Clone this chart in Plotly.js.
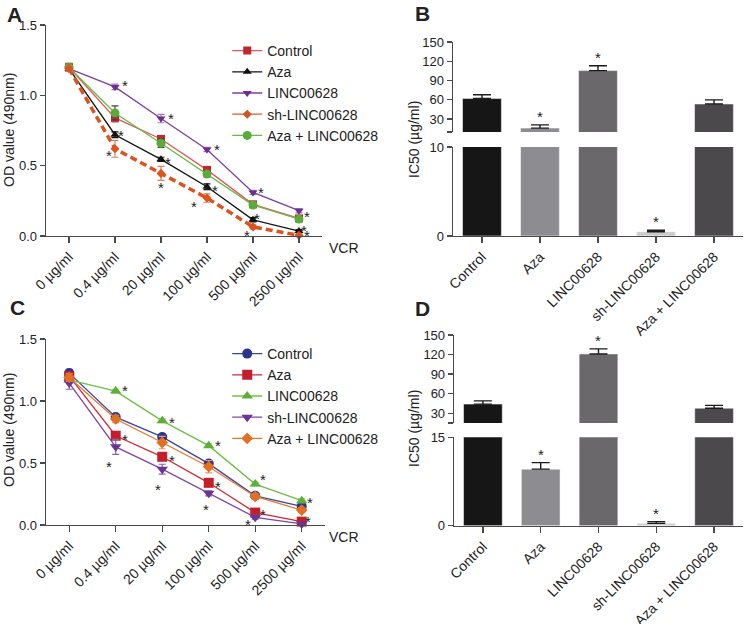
<!DOCTYPE html>
<html>
<head>
<meta charset="utf-8">
<script src="https://cdn.plot.ly/plotly-3.0.1.min.js"></script>
<style>
  body { margin: 0; background: #fff; }
  #plot { width: 745px; height: 624px; }
</style>
</head>
<body>
<div id="plot"></div>
<script>
// Doses (x categories for A and C)
const doses = ["0 µg/ml", "0.4 µg/ml", "20 µg/ml", "100 µg/ml", "500 µg/ml", "2500 µg/ml"];

// Panel A: OD values
const aNames = ["Control", "Aza", "LINC00628", "sh-LINC00628", "Aza + LINC00628"];
const aControl = [1.20, 0.84, 0.69, 0.47, 0.225, 0.125];
const aAza = [1.19, 0.72, 0.545, 0.35, 0.115, 0.035];
const aLinc = [1.19, 1.06, 0.835, 0.615, 0.31, 0.18];
const aSh = [1.19, 0.62, 0.445, 0.27, 0.065, 0.005];
const aAzaLinc = [1.20, 0.875, 0.66, 0.44, 0.22, 0.12];
const aControlErr = [0.03, 0.03, 0.02, 0.02, 0.015, 0.015];
const aAzaErr = [0.02, 0.02, 0.015, 0.02, 0.015, 0.01];
const aLincErr = [0.02, 0.02, 0.03, 0.015, 0.015, 0.015];
const aShErr = [0.02, 0.06, 0.05, 0.03, 0.015, 0.01];
const aAzaLincErr = [0.02, 0.05, 0.03, 0.02, 0.015, 0.015];
const starsAx = [1.22, 2.22, 3.22, 1.13, 0.87, 2.15, 2.0, 3.17, 2.72, 4.17, 4.09, 3.87, 5.17, 5.1, 5.17];
const starsAy = [1.10, 0.865, 0.645, 0.745, 0.60, 0.55, 0.375, 0.35, 0.24, 0.335, 0.155, 0.03, 0.17, 0.07, 0.03];

// Panel C: OD values
const cNames = ["Control", "Aza", "LINC00628", "sh-LINC00628", "Aza + LINC00628"];
const cControl = [1.225, 0.87, 0.71, 0.495, 0.235, 0.15];
const cAza = [1.20, 0.72, 0.55, 0.34, 0.10, 0.027];
const cLinc = [1.17, 1.08, 0.84, 0.64, 0.33, 0.196];
const cSh = [1.145, 0.63, 0.45, 0.255, 0.062, 0.008];
const cAzaLinc = [1.19, 0.855, 0.665, 0.47, 0.23, 0.12];
const cControlErr = [0.03, 0.02, 0.02, 0.02, 0.02, 0.02];
const cAzaErr = [0.03, 0.02, 0.03, 0.02, 0.02, 0.015];
const cLincErr = [0.02, 0.015, 0.015, 0.015, 0.015, 0.015];
const cShErr = [0.05, 0.06, 0.04, 0.02, 0.015, 0.01];
const cAzaLincErr = [0.03, 0.03, 0.05, 0.05, 0.02, 0.02];
const starsCx = [1.2, 1.2, 0.85, 2.2, 2.2, 1.9, 3.2, 3.2, 2.95, 4.17, 4.17, 3.85, 5.17, 5.13, 5.18];
const starsCy = [1.115, 0.725, 0.50, 0.86, 0.555, 0.32, 0.67, 0.34, 0.16, 0.395, 0.115, 0.035, 0.215, 0.06, -0.05];

// Panels B and D: IC50 bars
const groups = ["Control", "Aza", "LINC00628", "sh-LINC00628", "Aza + LINC00628"];
const bIC50 = [62, 16, 105.5, 0.48, 53.5];
const bErr = [6, 5, 7.5, 0.16, 6.5];
const bStar = [false, true, true, true, false];
const bBreak = 10;
const dIC50 = [44, 9.6, 121, 0.4, 37.7];
const dErr = [5, 1.1, 7.8, 0.3, 4.3];
const dStar = [false, true, true, true, false];
const dBreak = 15;

const barColors = ["#161616", "#8d8c91", "#6a686b", "#cbcbcb", "#4b494c"];
const FONT = "Liberation Sans, Arial, sans-serif";
const AX = "#4a4a4a";

function lineTrace(x, y, err, name, lineColor, markColor, symbol, xa, ya, legend, opts) {
  opts = opts || {};
  return {
    x: x, y: y, type: "scatter", mode: "lines+markers", name: name,
    xaxis: xa, yaxis: ya, legend: legend, cliponaxis: false,
    showlegend: opts.showlegend !== false,
    line: {color: lineColor, width: opts.width || 1.3, dash: opts.dash || "solid"},
    marker: {color: markColor, symbol: symbol, size: opts.size || 8},
    error_y: {type: "data", array: err, color: opts.errColor || markColor, thickness: 1.2, width: 3.5}
  };
}
function legendOnly(name, lineColor, markColor, symbol, legend, size) {
  return {
    x: [null], y: [null], type: "scatter", mode: "lines+markers", name: name,
    xaxis: "x", yaxis: "y", legend: legend,
    line: {color: lineColor, width: 1.3}, marker: {color: markColor, symbol: symbol, size: size}
  };
}

const traces = [
  // Panel A
  lineTrace(doses, aControl, aControlErr, aNames[0], "#e4575b", "#c1272d", "square", "x", "y", "legend", {errColor: "#e47a7c"}),
  lineTrace(doses, aAza, aAzaErr, aNames[1], "#111111", "#111111", "triangle-up", "x", "y", "legend", {size: 8}),
  lineTrace(doses, aLinc, aLincErr, aNames[2], "#7b3f9e", "#6d2c91", "triangle-down", "x", "y", "legend", {errColor: "#a27ab9"}),
  legendOnly(aNames[3], "#dd5a2a", "#d2522a", "diamond", "legend", 7),
  lineTrace(doses, aAzaLinc, aAzaLincErr, aNames[4], "#66bb44", "#5aab3b", "circle", "x", "y", "legend", {size: 9, errColor: "#444444"}),
  lineTrace(doses, aSh, aShErr, aNames[3], "#d9541e", "#d9541e", "diamond", "x", "y", "legend",
            {showlegend: false, width: 3.5, dash: "7px,4px", size: 7, errColor: "#e0805c"}),
  // Panel C
  lineTrace(doses, cControl, cControlErr, cNames[0], "#3b44a0", "#2b3590", "circle", "x3", "y4", "legend2", {size: 10, errColor: "#6a70b8"}),
  lineTrace(doses, cAza, cAzaErr, cNames[1], "#cf2a32", "#c1202a", "square", "x3", "y4", "legend2", {size: 10, errColor: "#e07a7e"}),
  lineTrace(doses, cLinc, cLincErr, cNames[2], "#6cbf45", "#5cb039", "triangle-up", "x3", "y4", "legend2", {size: 10, errColor: "#8fd06e"}),
  lineTrace(doses, cSh, cShErr, cNames[3], "#7e46a8", "#6b3596", "triangle-down", "x3", "y4", "legend2", {size: 10, errColor: "#8a62ad"}),
  lineTrace(doses, cAzaLinc, cAzaLincErr, cNames[4], "#e8792a", "#e27022", "diamond", "x3", "y4", "legend2", {size: 9, errColor: "#eb9a5e"})
];

// Broken-axis bars: same bars in lower and upper segment, clipped by each subplot
function barTraces(vals, err, xa, yLow, yHigh) {
  return [yLow, yHigh].map(function (ya) {
    return {
      x: groups, y: vals, type: "bar", xaxis: xa, yaxis: ya, showlegend: false,
      marker: {color: barColors, line: {color: "rgba(255,255,255,0.5)", width: 1}},
      error_y: {type: "data", symmetric: false, array: err, arrayminus: err.map(function () { return 0; }),
                color: "#1a1a1a", thickness: 1.4, width: 9}
    };
  });
}
traces.push.apply(traces, barTraces(bIC50, bErr, "x2", "y2", "y3"));
traces.push.apply(traces, barTraces(dIC50, dErr, "x4", "y5", "y6"));

const tickFont = {family: FONT, size: 13, color: "#222"};
const xTickFont = {family: FONT, size: 14, color: "#222"};
function catAxis(domain, anchor, n) {
  return {
    domain: domain, anchor: anchor, type: "category", range: [-0.5, n - 0.5],
    showline: true, linecolor: AX, linewidth: 1.3, ticks: "outside", ticklen: 6, tickwidth: 1.3,
    tickcolor: AX, tickangle: -45, tickfont: xTickFont, showgrid: false, zeroline: false, fixedrange: true
  };
}
function valAxis(domain, anchor, range, vals, text) {
  return {
    domain: domain, anchor: anchor, range: range, tickvals: vals, ticktext: text,
    showline: true, linecolor: AX, linewidth: 1.3, ticks: "outside", ticklen: 5, tickwidth: 1.3,
    tickcolor: AX, tickfont: tickFont, showgrid: false, zeroline: false, fixedrange: true
  };
}

const annotations = [];
function addText(x, y, text, size, extra) {
  annotations.push(Object.assign({
    xref: "paper", yref: "paper", x: x, y: y, text: text, showarrow: false,
    xanchor: "center", yanchor: "middle",
    font: {family: FONT, size: size, color: "#222"}
  }, extra || {}));
}
function addStars(xs, ys, xa, ya) {
  xs.forEach(function (x, i) {
    annotations.push({xref: xa, yref: ya, x: x, y: ys[i], text: "*", showarrow: false, yshift: -4,
                      xanchor: "center", yanchor: "middle",
                      font: {family: FONT, size: 15, color: "#222"}});
  });
}
function addBarStars(vals, err, flags, brk, xa, yLow, yHigh) {
  vals.forEach(function (v, i) {
    if (!flags[i]) return;
    annotations.push({xref: xa, yref: v + err[i] > brk ? yHigh : yLow, x: i, y: v + err[i],
                      xanchor: "center", yanchor: "bottom", yshift: -2, text: "*", showarrow: false,
                      font: {family: FONT, size: 15, color: "#222"}});
  });
}
addStars(starsAx, starsAy, "x", "y");
addStars(starsCx, starsCy, "x3", "y4");
addBarStars(bIC50, bErr, bStar, bBreak, "x2", "y2", "y3");
addBarStars(dIC50, dErr, dStar, dBreak, "x4", "y5", "y6");

addText(15 / 745, 1 - 14 / 624, "<b>A</b>", 21);
addText(422 / 745, 1 - 13 / 624, "<b>B</b>", 21);
addText(17 / 745, 1 - 307 / 624, "<b>C</b>", 21);
addText(422 / 745, 1 - 308 / 624, "<b>D</b>", 21);
addText(9 / 745, 1 - 130 / 624, "OD value (490nm)", 14, {textangle: -90});
addText(9 / 745, 1 - 430 / 624, "OD value (490nm)", 14, {textangle: -90});
addText(414 / 745, 1 - 140 / 624, "IC50 (µg/ml)", 14, {textangle: -90});
addText(414 / 745, 1 - 429 / 624, "IC50 (µg/ml)", 14, {textangle: -90});
addText(344 / 745, 1 - 248 / 624, "VCR", 14);
addText(344 / 745, 1 - 537 / 624, "VCR", 14);

const legendStyle = {
  xanchor: "left", yanchor: "top", bgcolor: "rgba(0,0,0,0)", itemwidth: 30,
  font: {family: FONT, size: 14, color: "#222"}, tracegroupgap: 0
};

const layout = {
  width: 745, height: 624,
  margin: {l: 0, r: 0, t: 0, b: 0},
  paper_bgcolor: "#fff", plot_bgcolor: "rgba(0,0,0,0)",
  font: {family: FONT, color: "#222"},
  bargap: 0.33,
  xaxis: catAxis([0.0617, 0.4322], "y", 6),
  yaxis: valAxis([0.6218, 0.9599], "x", [0, 1.5], [0, 0.5, 1, 1.5], ["0.0", "0.5", "1.0", "1.5"]),
  xaxis2: catAxis([0.608, 0.9973], "y2", 5),
  yaxis2: valAxis([0.6218, 0.7644], "x2", [0, bBreak], [0, bBreak], ["0", String(bBreak)]),
  yaxis3: valAxis([0.7885, 0.9327], "x2", [bBreak, 150], [bBreak, 30, 60, 90, 120, 150], ["", "30", "60", "90", "120", "150"]),
  xaxis3: catAxis([0.0617, 0.4362], "y4", 6),
  yaxis4: valAxis([0.1587, 0.4567], "x3", [0, 1.5], [0, 0.5, 1, 1.5], ["0.0", "0.5", "1.0", "1.5"]),
  xaxis4: catAxis([0.6094, 0.9973], "y5", 5),
  yaxis5: valAxis([0.1575, 0.2992], "x4", [0, dBreak], [0, dBreak], ["0", String(dBreak)]),
  yaxis6: valAxis([0.3221, 0.4631], "x4", [dBreak, 150], [dBreak, 30, 60, 90, 120, 150], ["", "30", "60", "90", "120", "150"]),
  legend: Object.assign({x: 0.305, y: 1 - 35 / 624}, legendStyle),
  legend2: Object.assign({x: 0.305, y: 1 - 338 / 624}, legendStyle),
  annotations: annotations,
  showlegend: true
};

Plotly.newPlot("plot", traces, layout, {displayModeBar: false, staticPlot: true});
</script>
</body>
</html>
